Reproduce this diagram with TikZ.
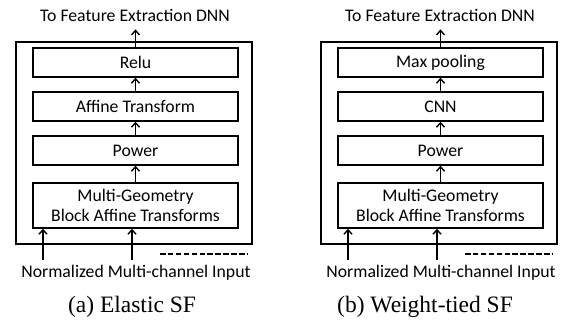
\documentclass[tikz,border=0pt]{standalone}
\usepackage{fontspec}
\setmainfont{Liberation Serif}
\newfontfamily\calfont{Carlito}
\usetikzlibrary{arrows.meta}
\begin{document}
\begin{tikzpicture}[x=1pt,y=-1pt,
  lbl/.style={font=\calfont\fontsize{17.7}{20.5}\selectfont, inner sep=0pt},
  blk/.style={draw, line width=1.4pt, minimum width=205pt, minimum height=29pt, inner sep=0pt, lbl, align=center},
  outerbox/.style={draw, line width=1.4pt, minimum width=236pt, minimum height=202pt, inner sep=0pt},
  arr/.style={line width=1.4pt, -{Straight Barb[length=4.5pt,width=8pt,line width=1.4pt]}},
  dsh/.style={line width=1.5pt, dash pattern=on 5.5pt off 2.4pt},
  capt/.style={font=\fontsize{23.5}{26}\selectfont, inner sep=0pt}]
\useasboundingbox (0,0) rectangle (569,322);
% ---------- (a) ----------
\node[lbl] (topA) at (135,15) {To Feature Extraction DNN};
\node[outerbox] (boxA) at (134,143) {};
\node[blk] (reluA) at (135.5,62.5) {Relu};
\node[blk] (affA) at (135.5,106.5) {Affine Transform};
\node[blk] (powA) at (135.5,150.5) {Power};
\node[blk, minimum height=45pt] (mgA) at (135.5,205.5) {Multi-Geometry\\Block Affine Transforms};
\draw[arr] (reluA.north) -- (reluA.north |- topA.south) [shorten >=8pt];
\draw[arr] (affA) -- (reluA);
\draw[arr] (powA) -- (affA);
\draw[arr] (mgA) -- (powA);
\coordinate (inA1) at (43,260);
\coordinate (inA2) at (132,260);
\draw[arr] (inA1) -- (inA1 |- mgA.south);
\draw[arr] (inA2) -- (inA2 |- mgA.south);
\coordinate (dA1) at (160,254);
\coordinate (dA2) at (247,254);
\draw[dsh] (dA1) -- (dA2);
\node[lbl] (inpA) at (136,273) {Normalized Multi-channel Input};
\node[capt] (capA) at (132,307) {(a) Elastic SF};
% ---------- (b) ----------
\node[lbl] (topB) at (440,15) {To Feature Extraction DNN};
\node[outerbox] (boxB) at (439,143) {};
\node[blk] (poolB) at (440.5,62.5) {Max pooling};
\node[blk] (cnnB) at (440.5,106.5) {CNN};
\node[blk] (powB) at (440.5,150.5) {Power};
\node[blk, minimum height=45pt] (mgB) at (440.5,205.5) {Multi-Geometry\\Block Affine Transforms};
\draw[arr] (poolB.north) -- (poolB.north |- topB.south) [shorten >=8pt];
\draw[arr] (cnnB) -- (poolB);
\draw[arr] (powB) -- (cnnB);
\draw[arr] (mgB) -- (powB);
\coordinate (inB1) at (348,260);
\coordinate (inB2) at (437,260);
\draw[arr] (inB1) -- (inB1 |- mgB.south);
\draw[arr] (inB2) -- (inB2 |- mgB.south);
\coordinate (dB1) at (465,254);
\coordinate (dB2) at (552,254);
\draw[dsh] (dB1) -- (dB2);
\node[lbl] (inpB) at (441,273) {Normalized Multi-channel Input};
\node[capt] (capB) at (425,307) {(b) Weight-tied SF};
\end{tikzpicture}
\end{document}
